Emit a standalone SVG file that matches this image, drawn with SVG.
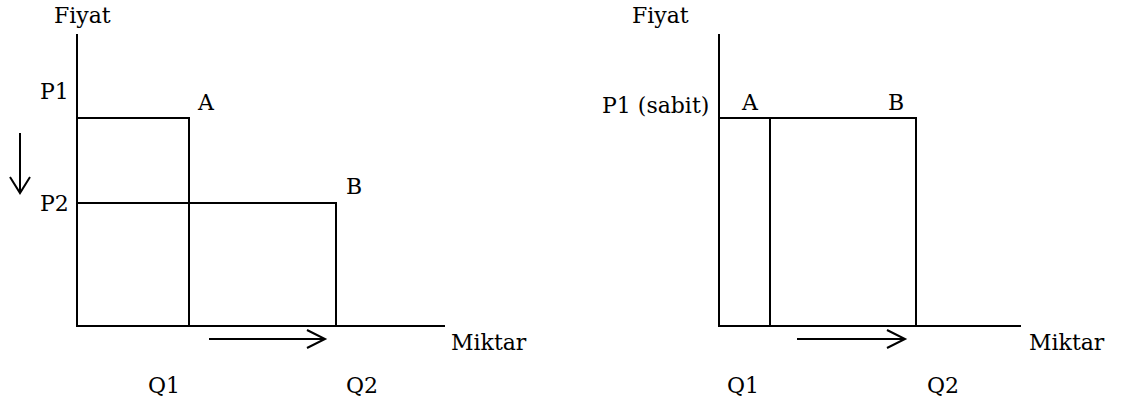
<svg xmlns="http://www.w3.org/2000/svg" width="1122" height="408" viewBox="0 0 1122 408">
  <style>
    .ln { stroke: #000; stroke-width: 2; fill: none; stroke-linecap: square; }
    .ar { stroke: #000; stroke-width: 2; fill: none; }
    .t { font-family: "DejaVu Serif", serif; font-size: 22px; fill: #000; }
  </style>
  <rect width="1122" height="408" fill="#fff"/>

  <!-- Left chart: price falls from P1 to P2 -->
  <g id="left-axes">
    <line class="ln" x1="77" y1="35" x2="77" y2="326"/>
    <line class="ln" x1="77" y1="326" x2="444" y2="326"/>
    <text class="t" x="54" y="23">Fiyat</text>
    <text class="t" x="451" y="350">Miktar</text>
  </g>
  <g id="left-point-A">
    <line class="ln" x1="77" y1="118" x2="189" y2="118"/>
    <line class="ln" x1="189" y1="118" x2="189" y2="326"/>
    <text class="t" x="40" y="99">P1</text>
    <text class="t" x="198" y="110">A</text>
    <text class="t" x="148" y="393">Q1</text>
  </g>
  <g id="left-point-B">
    <line class="ln" x1="77" y1="203" x2="336" y2="203"/>
    <line class="ln" x1="336" y1="203" x2="336" y2="326"/>
    <text class="t" x="40" y="211">P2</text>
    <text class="t" x="346" y="194">B</text>
    <text class="t" x="346" y="393">Q2</text>
  </g>

  <!-- Right chart: price held fixed at P1 -->
  <g id="right-axes">
    <line class="ln" x1="719" y1="35" x2="719" y2="326"/>
    <line class="ln" x1="719" y1="326" x2="1020" y2="326"/>
    <text class="t" x="632" y="23">Fiyat</text>
    <text class="t" x="1029" y="350">Miktar</text>
  </g>
  <g id="right-point-A">
    <line class="ln" x1="719" y1="118" x2="916" y2="118"/>
    <line class="ln" x1="770" y1="118" x2="770" y2="326"/>
    <text class="t" x="602" y="113">P1 (sabit)</text>
    <text class="t" x="742" y="110">A</text>
    <text class="t" x="727" y="393">Q1</text>
  </g>
  <g id="right-point-B">
    <line class="ln" x1="916" y1="118" x2="916" y2="326"/>
    <text class="t" x="888" y="110">B</text>
    <text class="t" x="927" y="393">Q2</text>
  </g>

  <!-- Direction arrows -->
  <g id="connectors">
    <path class="ar" d="M20 133 V193 M10 177 L20 193 L30 177"/>
    <path class="ar" d="M209 339 H325 M307 330 L325 339 L307 348"/>
    <path class="ar" d="M797 339 H905 M887 330 L905 339 L887 348"/>
  </g>
</svg>
